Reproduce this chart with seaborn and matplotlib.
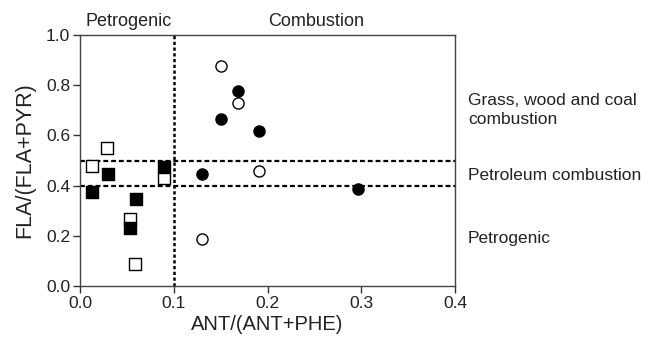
import matplotlib
matplotlib.use("Agg")
import matplotlib.pyplot as plt
import seaborn as sns
import pandas as pd

sns.set_theme(style="ticks")
plt.rcParams['font.family'] = ['Liberation Sans', 'DejaVu Sans']

# Data
open_circle_x = [0.150, 0.169, 0.191, 0.130]
open_circle_y = [0.878, 0.728, 0.458, 0.187]
filled_circle_x = [0.169, 0.150, 0.191, 0.130, 0.2965]
filled_circle_y = [0.777, 0.667, 0.618, 0.447, 0.388]
open_square_x = [0.029, 0.0124, 0.090, 0.0529, 0.0585]
open_square_y = [0.549, 0.478, 0.430, 0.268, 0.089]
filled_square_x = [0.0294, 0.0124, 0.090, 0.0592, 0.0529]
filled_square_y = [0.445, 0.376, 0.473, 0.347, 0.230]

x_ticks = [0.0, 0.1, 0.2, 0.3, 0.4]
y_ticks = [0.0, 0.2, 0.4, 0.6, 0.8, 1.0]
x_threshold = 0.1
y_thresholds = [0.4, 0.5]
top_labels = ["Petrogenic", "Combustion"]
right_labels = ["Grass, wood and coal\ncombustion", "Petroleum combustion", "Petrogenic"]

fig = plt.figure(figsize=(6.46, 3.42), dpi=100)
ax = fig.add_axes([80/646, 1-286/342, (455-80)/646, (286-35)/342])

groups = [
    (open_circle_x, open_circle_y, 'o', 'white'),
    (filled_circle_x, filled_circle_y, 'o', 'black'),
    (open_square_x, open_square_y, 's', 'white'),
    (filled_square_x, filled_square_y, 's', 'black'),
]
for xs, ys, m, fc in groups:
    df = pd.DataFrame({'x': xs, 'y': ys})
    sns.scatterplot(data=df, x='x', y='y', marker=m, s=64, color=fc,
                    edgecolor='black', linewidth=1.0, ax=ax, zorder=3)

ax.axvline(x_threshold, color='black', lw=1.8, ls=(0, (1.3, 1.0)), zorder=2)
for yt in y_thresholds:
    ax.axhline(yt, color='black', lw=1.6, ls=(0, (2.2, 1.3)), zorder=2)

ax.set_xlim(0, 0.4)
ax.set_ylim(0, 1.0)
ax.set_xticks(x_ticks)
ax.set_yticks(y_ticks)
ax.set_xticklabels([f"{v:.1f}" for v in x_ticks])
ax.set_yticklabels([f"{v:.1f}" for v in y_ticks])
ax.tick_params(direction='out', length=5, width=1, colors='#333333', labelsize=12.5,
               labelcolor='#222222', pad=2)
for sp in ax.spines.values():
    sp.set_color('#444444')
    sp.set_linewidth(1.0)
    sp.set_visible(True)

ax.set_xlabel("ANT/(ANT+PHE)", fontsize=14.5, color='#222222', labelpad=3)
ax.set_ylabel("FLA/(FLA+PYR)", fontsize=15.5, color='#222222', labelpad=8)

ax.text(0.052, 1.02, top_labels[0], ha='center', va='bottom', fontsize=13, color='#222222',
        transform=ax.get_xaxis_transform())
ax.text(0.252, 1.02, top_labels[1], ha='center', va='bottom', fontsize=13, color='#222222',
        transform=ax.get_xaxis_transform())

fig.text(468/646, 1-110/342, right_labels[0], ha='left', va='center', fontsize=12.5, color='#222222',
         linespacing=1.3)
fig.text(468/646, 1-176/342, right_labels[1], ha='left', va='center', fontsize=12.5, color='#222222')
fig.text(468/646, 1-238/342, right_labels[2], ha='left', va='center', fontsize=12.5, color='#222222')

fig.savefig("out.png", dpi=100)
